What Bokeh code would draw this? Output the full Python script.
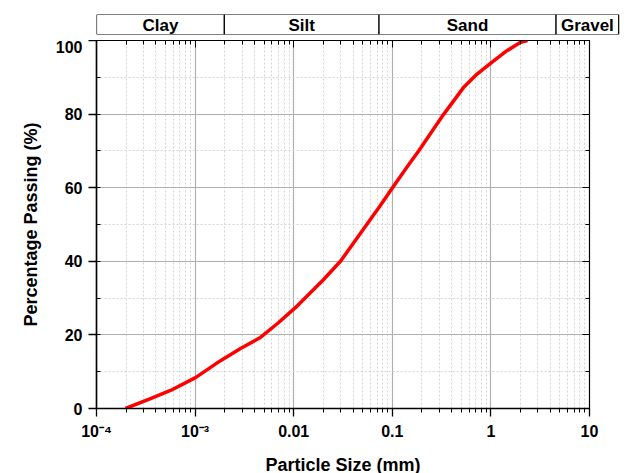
from bokeh.plotting import figure
from bokeh.layouts import column
from bokeh.models import (FixedTicker, LinearAxis, LogAxis, ColumnDataSource, Range1d,
                          SingleIntervalTicker)
from bokeh.embed import file_html
from bokeh.resources import INLINE
from bokeh.core.properties import value
import math

# ---- data ----
particle_size = [1.97e-4, 3.53e-4, 5.63e-4, 1.01e-3, 1.81e-3, 2.89e-3, 4.6e-3, 6.85e-3, 0.0104,
                 0.02, 0.0298, 0.0476, 0.075, 0.1005, 0.141, 0.185, 0.248, 0.333, 0.527, 0.698,
                 0.991, 1.41, 2.0, 2.35]
percent_passing = [0, 2.7, 4.9, 8.4, 13.0, 16.3, 19.3, 23.1, 27.4,
                   35.0, 40.0, 47.6, 55.0, 60.0, 65.6, 70.0, 75.0, 80.0, 87.2, 90.5,
                   93.8, 97.0, 99.5, 100.0]

soil_classes = ["Clay", "Silt", "Sand", "Gravel"]
class_lower = [1e-4, 0.002, 0.075, 4.75]
class_upper = [0.002, 0.075, 4.75, 20.6]

x_major = [1e-4, 1e-3, 1e-2, 1e-1, 1, 10]
x_labels = {1e-4: "10\u207b\u2074", 1e-3: "10\u207b\u00b3", 1e-2: "0.01", 1e-1: "0.1", 1: "1", 10: "10"}
x_minor = [m * d for d in [1e-4, 1e-3, 1e-2, 1e-1, 1] for m in range(2, 10)]

FONT = "Liberation Sans"
LEFT = 96
FRAME_W = 493
FRAME_H = 368

# ---- band figure (soil classes) ----
band = figure(width=LEFT + 524, height=40, x_axis_type="log",
              x_range=Range1d(1e-4, 21.5), y_range=Range1d(0, 1),
              output_backend="svg", toolbar_location=None,
              min_border_left=LEFT, min_border_right=0, min_border_top=14, min_border_bottom=6)
band.frame_width = 524
band.frame_height = 20
band.axis.visible = False
band.grid.visible = False
band.outline_line_color = None
centers = [10 ** ((math.log10(a) + math.log10(b)) / 2) for a, b in zip(class_lower, class_upper)]
bsrc = ColumnDataSource(dict(left=class_lower, right=class_upper, name=soil_classes, cx=centers))
band.quad(left="left", right="right", bottom=0, top=1, source=bsrc,
          fill_color="white", line_color="black", line_width=1.2)
band.text(x="cx", y=0.45, text="name", source=bsrc, text_align="center", text_baseline="middle",
          text_font=value(FONT), text_font_style="bold", text_font_size="17px", text_color="black")

# ---- main figure ----
p = figure(width=LEFT + FRAME_W + 31, height=425, x_axis_type="log",
           x_range=Range1d(1e-4, 10), y_range=Range1d(0, 100),
           output_backend="svg", toolbar_location=None,
           min_border_left=LEFT, min_border_right=31, min_border_top=0, min_border_bottom=10)
p.frame_width = FRAME_W
p.frame_height = FRAME_H
p.outline_line_color = "black"
p.outline_line_width = 1.2

xt = FixedTicker(ticks=x_major, minor_ticks=x_minor)
yt = SingleIntervalTicker(interval=20, num_minor_ticks=2)

p.line(particle_size, percent_passing, line_color="#ff0000", line_width=3.5, line_join="round")

xa = p.xaxis[0]
xa.ticker = xt
xa.major_label_overrides = x_labels
xa.axis_label = "Particle Size (mm)"
ya = p.yaxis[0]
ya.ticker = yt
ya.axis_label = "Percentage Passing (%)"

for ax in (xa, ya):
    ax.axis_line_width = 1.5
    ax.axis_line_color = "black"
    ax.major_tick_line_color = "black"
    ax.minor_tick_line_color = "black"
    ax.major_tick_line_width = 1.3
    ax.minor_tick_line_width = 1
    ax.major_label_text_font = FONT
    ax.major_label_text_font_style = "bold"
    ax.major_label_text_font_size = "16px"
    ax.major_label_text_color = "black"
    ax.axis_label_text_font = FONT
    ax.axis_label_text_font_style = "bold"
    ax.axis_label_text_font_size = "18px"
    ax.axis_label_text_color = "black"
    ax.major_tick_in = 0
    ax.major_tick_out = 8
    ax.minor_tick_in = 0
    ax.minor_tick_out = 4
ya.minor_tick_in = 4
ya.minor_tick_out = 0
xa.major_label_standoff = 6
xa.axis_label_standoff = 12
ya.major_label_standoff = 6
ya.axis_label_standoff = 12

top_ax = LogAxis(ticker=xt, major_label_text_font_size="0px", major_label_standoff=0,
                 major_tick_in=7, major_tick_out=0, minor_tick_in=4, minor_tick_out=0,
                 axis_line_color="black", major_tick_line_color="black",
                 minor_tick_line_color="black")
top_ax.major_label_overrides = {t: "" for t in x_major}
p.add_layout(top_ax, "above")
right_ax = LinearAxis(ticker=yt, major_label_text_font_size="0px", major_label_standoff=0,
                      major_tick_in=7, major_tick_out=0, minor_tick_in=4, minor_tick_out=0,
                      axis_line_color="black", major_tick_line_color="black",
                      minor_tick_line_color="black")
right_ax.major_label_overrides = {t: "" for t in range(0, 101, 20)}
p.add_layout(right_ax, "right")

p.xgrid[0].ticker = xt
p.ygrid[0].ticker = yt
for g in (p.xgrid[0], p.ygrid[0]):
    g.grid_line_color = "#b0b0b0"
    g.grid_line_width = 1.2
    g.minor_grid_line_color = "#d4d4d4"
    g.minor_grid_line_dash = "2 2"
    g.minor_grid_line_width = 1

layout = column(band, p, spacing=0)
open("out.html", "w").write(file_html(layout, INLINE))
